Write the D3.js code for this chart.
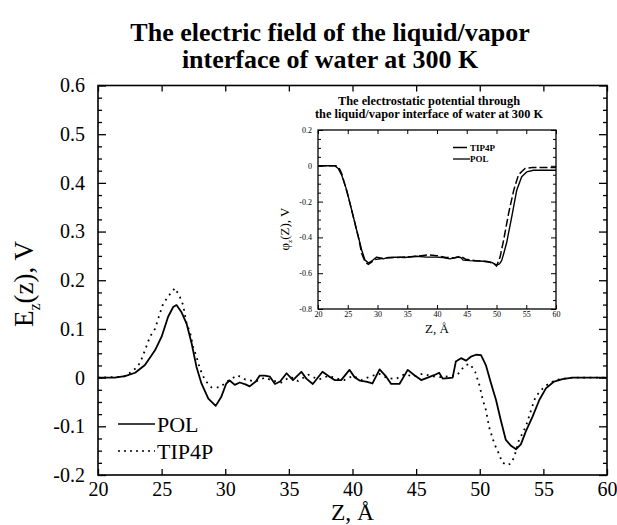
<!DOCTYPE html>
<html>
<head>
<meta charset="utf-8">
<script src="https://cdn.jsdelivr.net/npm/d3@7"></script>
<style>
  html, body { margin: 0; padding: 0; background: #fff; }
  svg { display: block; }
  text { font-family: "Liberation Serif", "Times New Roman", serif; fill: #000; }
</style>
</head>
<body>
<svg id="chart" width="617" height="525"></svg>
<script>
// ---- Main panel: electric field E_z(z) ----
const polZ = [20, 21.31, 22.12, 22.92, 23.69, 24.48, 25.0, 25.51, 25.91, 26.17, 26.55, 26.96, 27.36, 27.74, 28.13, 28.67, 29.25, 29.68, 30.08, 30.35, 30.75, 31.14, 31.59, 31.92, 32.4, 32.7, 33.1, 33.51, 33.91, 34.31, 34.82, 35.32, 35.98, 36.37, 36.88, 37.64, 38.19, 38.59, 39.11, 39.76, 40.16, 40.56, 41.07, 41.57, 42.13, 42.65, 43.04, 43.69, 44.34, 44.87, 45.4, 45.91, 46.41, 46.81, 47.09, 47.52, 47.87, 48.12, 48.53, 48.93, 49.3, 49.71, 50.1, 50.49, 50.89, 51.28, 51.65, 52.05, 52.46, 52.86, 53.23, 53.63, 54.15, 54.68, 55.2, 55.84, 56.5, 57.3, 60];
const polE = [0, 0, 0.003, 0.01, 0.026, 0.056, 0.084, 0.125, 0.145, 0.149, 0.135, 0.111, 0.07, 0.022, -0.012, -0.043, -0.058, -0.04, -0.012, -0.006, -0.015, -0.01, -0.014, -0.018, -0.008, 0.004, 0.004, 0.002, -0.013, -0.008, 0.009, -0.005, 0.012, -0.002, -0.013, 0.012, 0.002, -0.005, -0.005, 0.016, 0.001, -0.006, -0.008, -0.012, 0.017, 0.002, -0.013, -0.013, 0.016, 0.005, -0.005, 0.0, 0.005, 0.01, -0.002, -0.001, 0.0, 0.033, 0.04, 0.035, 0.043, 0.047, 0.046, 0.025, -0.012, -0.046, -0.087, -0.128, -0.14, -0.147, -0.137, -0.11, -0.08, -0.046, -0.022, -0.008, -0.003, 0, 0];

const tipZ = [20, 22.02, 22.77, 23.3, 23.69, 24.08, 24.48, 24.84, 25.12, 25.64, 26.05, 26.43, 26.69, 26.96, 27.22, 27.48, 27.74, 28.0, 28.4, 28.92, 29.58, 30.08, 30.95, 31.59, 32.4, 33.1, 33.71, 34.41, 35.12, 35.72, 36.53, 37.34, 38.14, 38.75, 39.35, 40.06, 40.66, 41.37, 42.08, 42.68, 43.39, 44.09, 44.8, 45.5, 46.21, 46.91, 47.62, 48.22, 48.43, 48.83, 49.23, 49.64, 49.97, 50.24, 50.49, 50.74, 51.15, 51.5, 51.76, 52.16, 52.46, 52.71, 53.06, 53.63, 54.03, 54.39, 54.96, 55.48, 56.29, 57.3, 60];
const tipE = [0, 0.002, 0.014, 0.03, 0.056, 0.084, 0.1, 0.13, 0.152, 0.171, 0.184, 0.166, 0.149, 0.111, 0.094, 0.063, 0.043, 0.019, -0.005, -0.02, -0.02, -0.009, 0.005, -0.004, -0.008, 0.0, -0.006, -0.01, 0.002, -0.007, 0.006, -0.004, 0.004, -0.002, -0.005, 0.004, -0.005, 0.002, 0.008, 0.0, -0.003, 0.007, 0.002, 0.008, 0.003, 0.001, 0.003, 0.005, 0.012, 0.025, 0.028, 0.012, -0.015, -0.046, -0.067, -0.102, -0.136, -0.156, -0.174, -0.18, -0.176, -0.163, -0.13, -0.1, -0.067, -0.039, -0.022, -0.011, -0.003, 0, 0];

const xTicks = [20, 25, 30, 35, 40, 45, 50, 55, 60];
const yTicks = [0.6, 0.5, 0.4, 0.3, 0.2, 0.1, 0, -0.1, -0.2];
const yTickLabels = ["0.6", "0.5", "0.4", "0.3", "0.2", "0.1", "0", "-0.1", "-0.2"];

// ---- Inset: electrostatic potential phi_z(Z) ----
const insPolZ = [20, 22.8, 23.4, 23.98, 24.82, 25.66, 26.5, 27.34, 27.9, 28.46, 28.9, 29.3, 29.86, 30.5, 30.98, 31.8, 33.2, 34.5, 36.6, 38.2, 39.9, 41.0, 42.2, 43.3, 44.0, 44.4, 45.5, 47.8, 49.2, 50.03, 50.5, 50.87, 51.3, 51.7, 52.56, 53.4, 54.23, 55.07, 56.2, 60];
const insPolPhi = [0, 0, -0.015, -0.052, -0.136, -0.248, -0.36, -0.47, -0.527, -0.542, -0.535, -0.525, -0.51, -0.515, -0.52, -0.512, -0.51, -0.512, -0.505, -0.51, -0.51, -0.512, -0.52, -0.51, -0.512, -0.527, -0.53, -0.533, -0.54, -0.555, -0.548, -0.53, -0.48, -0.43, -0.285, -0.136, -0.061, -0.034, -0.025, -0.025];

const insTipZ = [20, 23.0, 23.5, 23.98, 25.1, 25.94, 26.78, 27.34, 27.9, 28.46, 29.0, 29.5, 30.2, 31.5, 33.0, 34.8, 36.6, 38.5, 40.0, 41.5, 43.0, 44.0, 44.8, 46.5, 48.5, 49.5, 50.0, 50.6, 51.2, 52.03, 52.9, 53.7, 54.3, 54.8, 56.0, 60];
const insTipPhi = [0, 0, -0.01, -0.043, -0.173, -0.285, -0.397, -0.49, -0.536, -0.551, -0.538, -0.525, -0.52, -0.515, -0.512, -0.51, -0.505, -0.498, -0.502, -0.512, -0.515, -0.505, -0.522, -0.53, -0.535, -0.545, -0.56, -0.51, -0.415, -0.266, -0.136, -0.05, -0.03, -0.015, -0.01, -0.01];

const insXTicks = [20, 25, 30, 35, 40, 45, 50, 55, 60];
const insYTicks = [0.2, 0, -0.2, -0.4, -0.6, -0.8];
const insYTickLabels = ["0.2", "0", "-0.2", "-0.4", "-0.6", "-0.8"];

const svg = d3.select("#chart");
svg.append("rect").attr("width", 617).attr("height", 525).attr("fill", "#fff");

// Title
const title = svg.append("text")
  .attr("text-anchor", "middle")
  .style("font-weight", "bold")
  .style("font-size", "26px");
title.append("tspan").attr("x", 330).attr("y", 41).text("The electric field of the liquid/vapor");
title.append("tspan").attr("x", 330).attr("y", 68).text("interface of water at 300 K");

// Scales for the main panel
const x = d3.scaleLinear().domain([20, 60]).range([98, 607]);
const y = d3.scaleLinear().domain([-0.2, 0.6]).range([475, 85.5]);

function minorBetween(ticks, n) {
  const out = [];
  const s = ticks.slice().sort((a, b) => a - b);
  for (let i = 0; i < s.length - 1; i++) {
    const step = (s[i + 1] - s[i]) / (n + 1);
    for (let k = 1; k <= n; k++) out.push(s[i] + k * step);
  }
  return out;
}

function styleAxis(g, fontSize) {
  g.select(".domain").remove();
  g.selectAll(".tick line").attr("stroke", "#000").attr("stroke-width", 1.3);
  g.selectAll(".tick text")
    .style("font-family", "'Liberation Serif', serif")
    .style("font-size", fontSize + "px")
    .attr("fill", "#000");
}

const yMinor = minorBetween(yTicks, 3);

// main axes, ticks pointing inward
svg.append("g").attr("transform", `translate(0,${y(-0.2)})`)
  .call(d3.axisBottom(x).tickValues(xTicks).tickSize(-6).tickPadding(7).tickFormat(d3.format("d")))
  .call(g => styleAxis(g, 20));
svg.append("g").attr("transform", `translate(0,${y(0.6)})`)
  .call(d3.axisTop(x).tickValues(xTicks).tickSize(-6).tickFormat(""))
  .call(g => styleAxis(g, 20));
svg.append("g").attr("transform", `translate(${x(20)},0)`)
  .call(d3.axisLeft(y).tickValues(yTicks).tickSize(-8).tickPadding(13)
    .tickFormat((d, i) => yTickLabels[i]))
  .call(g => styleAxis(g, 20));
svg.append("g").attr("transform", `translate(${x(20)},0)`)
  .call(d3.axisLeft(y).tickValues(yMinor).tickSize(-4).tickFormat(""))
  .call(g => styleAxis(g, 20));
svg.append("g").attr("transform", `translate(${x(60)},0)`)
  .call(d3.axisRight(y).tickValues(yTicks).tickSize(-8).tickFormat(""))
  .call(g => styleAxis(g, 20));
svg.append("g").attr("transform", `translate(${x(60)},0)`)
  .call(d3.axisRight(y).tickValues(yMinor).tickSize(-4).tickFormat(""))
  .call(g => styleAxis(g, 20));

// main frame
svg.append("rect")
  .attr("x", x(20)).attr("y", y(0.6))
  .attr("width", x(60) - x(20)).attr("height", y(-0.2) - y(0.6))
  .attr("fill", "none").attr("stroke", "#000").attr("stroke-width", 1.6);

// axis titles
svg.append("text")
  .attr("x", (x(20) + x(60)) / 2).attr("y", 519.5)
  .attr("text-anchor", "middle").style("font-size", "23.5px")
  .text("Z, Å");

const yl = svg.append("text")
  .attr("transform", "translate(33,284) rotate(-90)")
  .attr("text-anchor", "middle").style("font-size", "27px");
yl.append("tspan").text("E");
yl.append("tspan").attr("dy", 7).style("font-size", "16px").text("z");
yl.append("tspan").attr("dy", -7).text("(z), V");

// curves
const line = d3.line().x(d => x(d[0])).y(d => y(d[1]));
const polPts = polZ.map((z, i) => [z, polE[i]]);
const tipPts = tipZ.map((z, i) => [z, tipE[i]]);

svg.append("path").datum(tipPts).attr("d", line)
  .attr("fill", "none").attr("stroke", "#000").attr("stroke-width", 1.8)
  .attr("stroke-dasharray", "1.8,4.6");
svg.append("path").datum(polPts).attr("d", line)
  .attr("fill", "none").attr("stroke", "#000").attr("stroke-width", 1.8)
  .attr("stroke-linejoin", "round");

// main legend
svg.append("line").attr("x1", 118).attr("x2", 155).attr("y1", 424).attr("y2", 424)
  .attr("stroke", "#000").attr("stroke-width", 1.5);
svg.append("text").attr("x", 157).attr("y", 432).style("font-size", "22px").text("POL");
svg.append("line").attr("x1", 118).attr("x2", 155).attr("y1", 451).attr("y2", 451)
  .attr("stroke", "#000").attr("stroke-width", 1.5).attr("stroke-dasharray", "2,4");
svg.append("text").attr("x", 157).attr("y", 459).style("font-size", "22px").text("TIP4P");

// ---- Inset ----
const xi = d3.scaleLinear().domain([20, 60]).range([318, 556]);
const yi = d3.scaleLinear().domain([-0.8, 0.2]).range([309, 130]);
const insYMinor = minorBetween(insYTicks, 3);

const ins = svg.append("g");

const it = ins.append("text").attr("text-anchor", "middle")
  .style("font-weight", "bold").style("font-size", "11.5px");
it.append("tspan").attr("x", 429).attr("y", 105)
  .attr("textLength", 182).attr("lengthAdjust", "spacingAndGlyphs")
  .text("The electrostatic potential through");
it.append("tspan").attr("x", 429).attr("y", 117.5)
  .attr("textLength", 228).attr("lengthAdjust", "spacingAndGlyphs")
  .text("the liquid/vapor interface of water at 300 K");

function styleSmall(g) {
  g.select(".domain").remove();
  g.selectAll(".tick line").attr("stroke", "#000").attr("stroke-width", 1);
  g.selectAll(".tick text")
    .style("font-family", "'Liberation Serif', serif")
    .style("font-size", "8px")
    .attr("fill", "#000");
}

ins.append("g").attr("transform", `translate(0,${yi(-0.8)})`)
  .call(d3.axisBottom(xi).tickValues(insXTicks).tickSize(-4).tickPadding(2).tickFormat(d3.format("d")))
  .call(styleSmall);
ins.append("g").attr("transform", `translate(0,${yi(0.2)})`)
  .call(d3.axisTop(xi).tickValues(insXTicks).tickSize(-4).tickFormat(""))
  .call(styleSmall);
ins.append("g").attr("transform", `translate(${xi(20)},0)`)
  .call(d3.axisLeft(yi).tickValues(insYTicks).tickSize(-5).tickPadding(6)
    .tickFormat((d, i) => insYTickLabels[i]))
  .call(styleSmall);
ins.append("g").attr("transform", `translate(${xi(20)},0)`)
  .call(d3.axisLeft(yi).tickValues(insYMinor).tickSize(-3).tickFormat(""))
  .call(styleSmall);
ins.append("g").attr("transform", `translate(${xi(60)},0)`)
  .call(d3.axisRight(yi).tickValues(insYTicks).tickSize(-5).tickFormat(""))
  .call(styleSmall);
ins.append("g").attr("transform", `translate(${xi(60)},0)`)
  .call(d3.axisRight(yi).tickValues(insYMinor).tickSize(-3).tickFormat(""))
  .call(styleSmall);

ins.append("rect")
  .attr("x", xi(20)).attr("y", yi(0.2))
  .attr("width", xi(60) - xi(20)).attr("height", yi(-0.8) - yi(0.2))
  .attr("fill", "none").attr("stroke", "#000").attr("stroke-width", 1.3);

ins.append("text").attr("x", 437).attr("y", 333).attr("text-anchor", "middle")
  .style("font-size", "13px").text("Z, Å");

const iyl = ins.append("text")
  .attr("transform", "translate(289,229) rotate(-90)")
  .attr("text-anchor", "middle").style("font-size", "13px");
iyl.append("tspan").text("φ");
iyl.append("tspan").attr("dy", 3).style("font-size", "7px").text("z");
iyl.append("tspan").attr("dy", -3).text("(Z), V");

const iline = d3.line().x(d => xi(d[0])).y(d => yi(d[1]));
ins.append("path").datum(insTipZ.map((z, i) => [z, insTipPhi[i]])).attr("d", iline)
  .attr("fill", "none").attr("stroke", "#000").attr("stroke-width", 1.5)
  .attr("stroke-dasharray", "8,3");
ins.append("path").datum(insPolZ.map((z, i) => [z, insPolPhi[i]])).attr("d", iline)
  .attr("fill", "none").attr("stroke", "#000").attr("stroke-width", 1.4)
  .attr("stroke-linejoin", "round");

// inset legend
ins.append("line").attr("x1", 453).attr("x2", 467).attr("y1", 147.5).attr("y2", 147.5)
  .attr("stroke", "#000").attr("stroke-width", 1.5);
ins.append("text").attr("x", 470).attr("y", 150.5).style("font-weight", "bold")
  .style("font-size", "9px").text("TIP4P");
ins.append("line").attr("x1", 453).attr("x2", 470).attr("y1", 159).attr("y2", 159)
  .attr("stroke", "#000").attr("stroke-width", 1.3);
ins.append("text").attr("x", 470).attr("y", 162).style("font-weight", "bold")
  .style("font-size", "9px").text("POL");
</script>
</body>
</html>
